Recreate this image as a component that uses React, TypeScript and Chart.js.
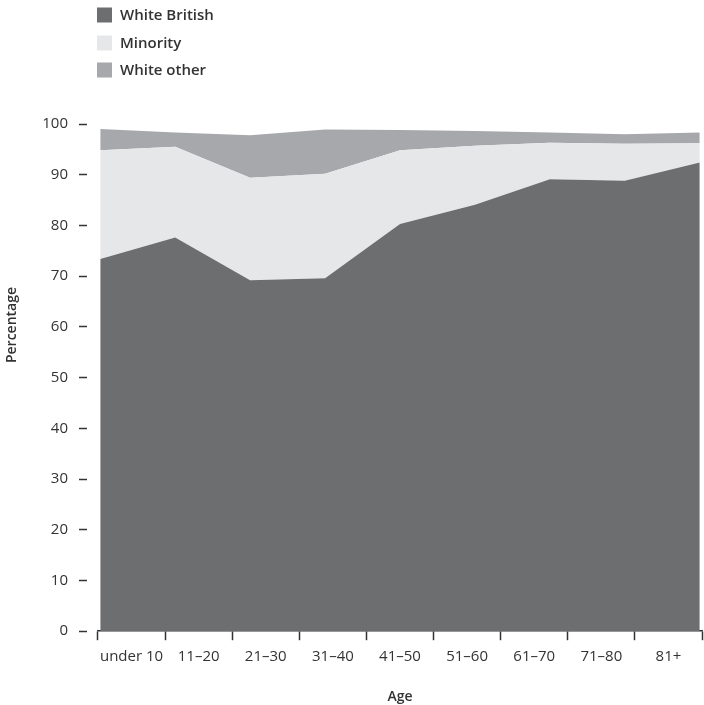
import React, { useEffect, useRef } from "react";
import { Chart, registerables } from "chart.js";

Chart.register(...registerables);

const categories = ["under 10", "11–20", "21–30", "31–40", "41–50", "51–60", "61–70", "71–80", "81+"];
const whiteBritish = [73.4, 77.6, 69.2, 69.6, 80.3, 84.1, 89.1, 88.8, 92.4];
const minority = [21.4, 17.9, 20.2, 20.6, 14.5, 11.6, 7.2, 7.3, 3.8];
const whiteOther = [4.2, 2.8, 8.4, 8.7, 4.0, 2.9, 2.0, 1.9, 2.1];
const yTicks = [0, 10, 20, 30, 40, 50, 60, 70, 80, 90, 100];

const seriesNames = ["White British", "Minority", "White other"];
const seriesColors = ["#6d6e70", "#e6e7e8", "#a7a8ab"];

const FONT = "'Open Sans', sans-serif";
const TEXT = "#333333";

const customDecor = {
  id: "customDecor",
  afterDraw(chart: any) {
    const ctx = chart.ctx;
    ctx.save();
    const rows = [15, 43, 70];
    chart.data.datasets.forEach((ds: any, i: number) => {
      ctx.fillStyle = ds.backgroundColor;
      ctx.fillRect(97, rows[i] - 7.5, 15, 15);
      ctx.fillStyle = TEXT;
      ctx.font = `600 15px ${FONT}`;
      ctx.textBaseline = "middle";
      ctx.textAlign = "left";
      ctx.fillText(ds.label, 120, rows[i] + 1);
    });
    ctx.translate(12, 325);
    ctx.rotate(-Math.PI / 2);
    ctx.font = `600 14px ${FONT}`;
    ctx.fillStyle = TEXT;
    ctx.textAlign = "center";
    ctx.textBaseline = "middle";
    ctx.fillText("Percentage", 0, 0);
    ctx.restore();
  },
};

export default function App() {
  const ref = useRef<HTMLCanvasElement>(null);
  useEffect(() => {
    if (!ref.current) return;
    const series = [whiteBritish, minority, whiteOther];
    const chart = new Chart(ref.current, {
      type: "line",
      data: {
        labels: categories,
        datasets: series.map((vals, i) => ({
          label: seriesNames[i],
          data: vals.map((v, j) => ({ x: j, y: v })),
          backgroundColor: seriesColors[i],
          borderColor: seriesColors[i],
          borderWidth: 0,
          pointRadius: 0,
          fill: i === 0 ? "origin" : "-1",
          tension: 0,
          xAxisID: "x",
        })),
      },
      options: {
        animation: false,
        responsive: true,
        maintainAspectRatio: false,
        layout: { padding: { top: 124, right: 2, left: 0, bottom: 0 } },
        plugins: { legend: { display: false }, tooltip: { enabled: false } },
        scales: {
          x: {
            type: "linear",
            display: false,
            min: -0.03,
            max: 8.03,
          },
          xLabels: {
            type: "category",
            labels: categories,
            position: "bottom",
            offset: true,
            grid: {
              display: true,
              offset: true,
              drawOnChartArea: false,
              tickLength: 9,
              tickColor: TEXT,
              tickWidth: 1.5,
            },
            border: { display: true, color: TEXT, width: 1.5 },
            ticks: { color: TEXT, font: { family: FONT, size: 15 }, padding: 8, maxRotation: 0 },
            title: {
              display: true,
              text: "Age",
              color: TEXT,
              font: { family: FONT, size: 14, weight: "600" },
              padding: { top: 14, bottom: 0 },
            },
          },
          y: {
            stacked: true,
            min: 0,
            max: 100,
            afterBuildTicks: (scale: any) => {
              scale.ticks = yTicks.map((v) => ({ value: v }));
            },
            afterFit: (scale: any) => {
              scale.width = 98;
            },
            grid: {
              display: true,
              drawOnChartArea: false,
              tickLength: 19,
              tickColor: TEXT,
              tickWidth: 1.5,
              tickBorderDash: [8, 40],
            },
            border: { display: false },
            ticks: { color: TEXT, font: { family: FONT, size: 15 }, padding: 11 },
          },
        },
      } as any,
      plugins: [customDecor],
    });
    return () => chart.destroy();
  }, []);
  return (
    <div style={{ position: "absolute", left: 0, top: 0, width: 704, height: 705, background: "#fff" }}>
      <canvas ref={ref} />
    </div>
  );
}
